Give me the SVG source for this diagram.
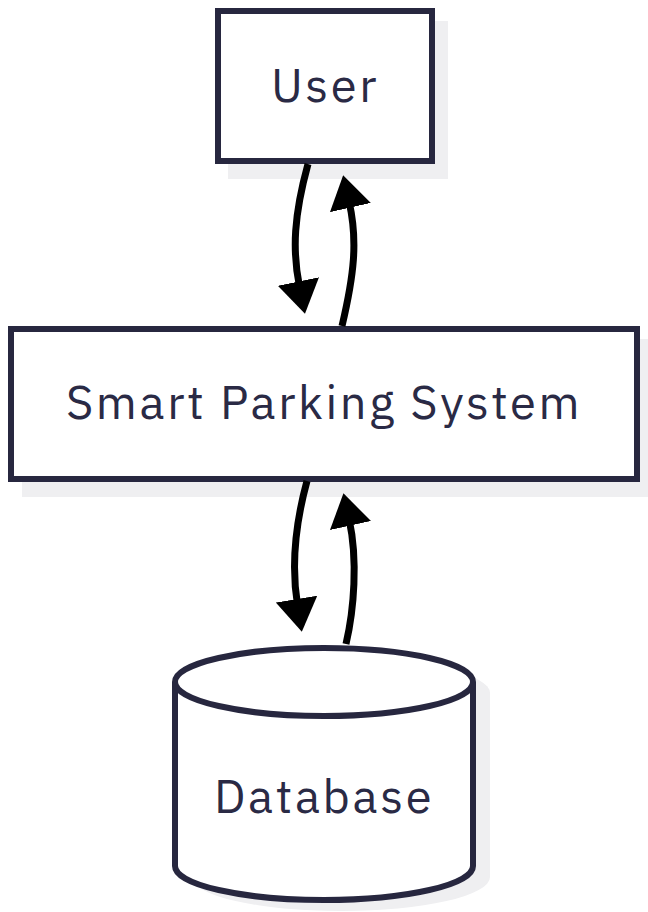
<svg xmlns="http://www.w3.org/2000/svg" width="648" height="912" viewBox="0 0 648 912">
<style>
.s{fill:#efeff1}
.n{fill:#fff;stroke:#27273f;stroke-width:6}
.t{font-family:"IBM Plex Sans","Inter","Noto Sans",sans-serif;font-size:47px;fill:#2a2a45;text-anchor:middle;letter-spacing:2.6px}
.c{fill:none;stroke:#000;stroke-width:7;marker-end:url(#a)}
</style>
<defs><marker id="a" markerUnits="userSpaceOnUse" markerWidth="36" markerHeight="44" refX="6" refY="21" orient="auto"><path d="M0 0L33 21L0 42Z" fill="#000"/></marker></defs>
<rect width="648" height="912" fill="#fff"/>
<g id="user"><rect class="s" x="228" y="21" width="220" height="158"/><rect class="n" x="218" y="11" width="214" height="150"/><text class="t" x="325" y="102">User</text></g>
<g id="system"><rect class="s" x="22" y="339" width="626" height="158"/><rect class="n" x="11" y="329" width="626" height="150"/><text class="t" x="324" y="419">Smart Parking System</text></g>
<g id="database"><path class="s" d="M192 693A149 34 0 0 1 490 693V877A149 34 0 0 1 192 877Z"/><path class="n" d="M175 682A149 34 0 0 1 473 682V866A149 34 0 0 1 175 866Z"/><path class="n" style="fill:none" d="M175 682A149 34 0 0 0 473 682"/><text class="t" x="324" y="813">Database</text></g>
<g id="connectors">
<path class="c" d="M308 164C294 215 292 250 299.6 287.4"/>
<path class="c" d="M342 326C354 275 358 241 349.1 201.7"/>
<path class="c" d="M307 481C295 525 291 565 297.5 605"/>
<path class="c" d="M346 644C354 610 358 560 349.2 519.7"/>
</g>
</svg>
